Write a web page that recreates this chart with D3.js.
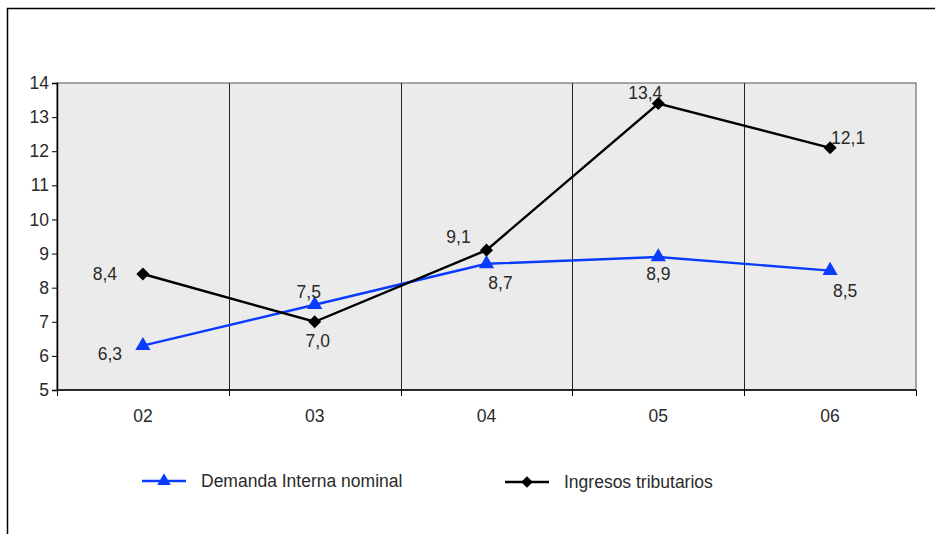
<!DOCTYPE html>
<html>
<head>
<meta charset="utf-8">
<script src="https://cdn.jsdelivr.net/npm/d3@7"></script>
<style>
  body { margin: 0; background: #fff; }
  svg text { font-family: "Liberation Sans", Arial, sans-serif; fill: #2a2a2a; }
</style>
</head>
<body>
<div id="container"></div>
<script>
  // datos
  const categories = ["02", "03", "04", "05", "06"];
  const demanda = [6.3, 7.5, 8.7, 8.9, 8.5];
  const ingresos = [8.4, 7.0, 9.1, 13.4, 12.1];
  const yTicks = [5, 6, 7, 8, 9, 10, 11, 12, 13, 14];
  const seriesNames = ["Demanda Interna nominal", "Ingresos tributarios"];

  // posiciones de etiquetas (dx, dy respecto al punto)
  const demandaLabelOffset = [[-33, 14], [-6, -7], [14, 25], [0, 23], [15, 26]];
  const ingresosLabelOffset = [[-38, 6], [3, 25], [-28, -7], [-13, -4], [18, -4]];

  const width = 935, height = 534;
  const margin = { top: 83, right: 19, bottom: 144, left: 57 };
  const w = width - margin.left - margin.right;
  const h = height - margin.top - margin.bottom;
  const fs = "17.5px";

  const svg = d3.select("#container").append("svg")
    .attr("width", width)
    .attr("height", height);

  // marco exterior
  svg.append("rect")
    .attr("x", 7.5).attr("y", 8.5)
    .attr("width", 1000).attr("height", 1000)
    .attr("fill", "none").attr("stroke", "#000").attr("stroke-width", 1.5);

  const g = svg.append("g")
    .attr("transform", "translate(" + margin.left + "," + margin.top + ")");

  const x = d3.scaleBand().domain(categories).range([0, w]);
  const y = d3.scaleLinear().domain([5, 14]).range([h, 0]);
  const cx = d => x(d) + x.bandwidth() / 2;

  g.append("rect")
    .attr("width", w).attr("height", h)
    .attr("fill", "#ebebeb")
    .attr("stroke", "#555").attr("stroke-width", 1);

  // lineas verticales entre categorias
  g.selectAll(".grid")
    .data(categories.slice(1))
    .enter().append("line")
    .attr("x1", d => Math.round(x(d)) + 0.5)
    .attr("x2", d => Math.round(x(d)) + 0.5)
    .attr("y1", 0).attr("y2", h)
    .attr("stroke", "#222").attr("stroke-width", 1);

  // eje y
  const yAxis = g.append("g")
    .call(d3.axisLeft(y).tickValues(yTicks).tickSize(5).tickPadding(3).tickFormat(d3.format("d")));
  yAxis.select(".domain").attr("stroke", "#000").attr("stroke-width", 1.5);
  yAxis.selectAll("text").style("font-size", fs).attr("fill", "#2a2a2a");

  // eje x
  const xAxis = g.append("g")
    .attr("transform", "translate(0," + h + ")");
  xAxis.append("line")
    .attr("x1", 0).attr("x2", w).attr("y1", 0).attr("y2", 0)
    .attr("stroke", "#000").attr("stroke-width", 1.5);
  xAxis.selectAll(".tk")
    .data(categories.concat(["end"]))
    .enter().append("line")
    .attr("x1", (d, i) => Math.round(i * x.step()) + 0.5)
    .attr("x2", (d, i) => Math.round(i * x.step()) + 0.5)
    .attr("y1", 0).attr("y2", 6)
    .attr("stroke", "#000");
  xAxis.selectAll(".lbl")
    .data(categories)
    .enter().append("text")
    .attr("x", cx)
    .attr("y", 32)
    .attr("text-anchor", "middle")
    .style("font-size", fs)
    .text(d => d);

  const line = d3.line()
    .x((d, i) => cx(categories[i]))
    .y(d => y(d));

  const series = [
    { name: seriesNames[0], values: demanda, color: "#0a3cff", marker: d3.symbolTriangle, size: 100, rot: 0, offsets: demandaLabelOffset },
    { name: seriesNames[1], values: ingresos, color: "#000", marker: d3.symbolSquare, size: 85, rot: 45, offsets: ingresosLabelOffset }
  ];

  const fmt = v => d3.format(".1f")(v).replace(".", ",");

  series.forEach(s => {
    g.append("path")
      .datum(s.values)
      .attr("fill", "none")
      .attr("stroke", s.color)
      .attr("stroke-width", 2.4)
      .attr("d", line);

    g.selectAll(null)
      .data(s.values)
      .enter().append("path")
      .attr("transform", (d, i) => "translate(" + cx(categories[i]) + "," + y(d) + ") rotate(" + s.rot + ")")
      .attr("d", d3.symbol().type(s.marker).size(s.size))
      .attr("fill", s.color);

    g.selectAll(null)
      .data(s.values)
      .enter().append("text")
      .attr("x", (d, i) => cx(categories[i]) + s.offsets[i][0])
      .attr("y", (d, i) => y(d) + s.offsets[i][1])
      .attr("text-anchor", "middle")
      .style("font-size", fs)
      .text(fmt);
  });

  // leyenda
  const legendPos = [[142, 481], [505, 482]];
  series.forEach((s, i) => {
    const lg = svg.append("g")
      .attr("transform", "translate(" + legendPos[i][0] + "," + legendPos[i][1] + ")");
    lg.append("line")
      .attr("x1", 0).attr("x2", 44)
      .attr("stroke", s.color).attr("stroke-width", 2.5);
    lg.append("path")
      .attr("transform", "translate(22,0) rotate(" + s.rot + ")")
      .attr("d", d3.symbol().type(s.marker).size(s.size * 0.8))
      .attr("fill", s.color);
    lg.append("text")
      .attr("x", 59).attr("y", 6)
      .style("font-size", fs)
      .text(s.name);
  });
</script>
</body>
</html>
